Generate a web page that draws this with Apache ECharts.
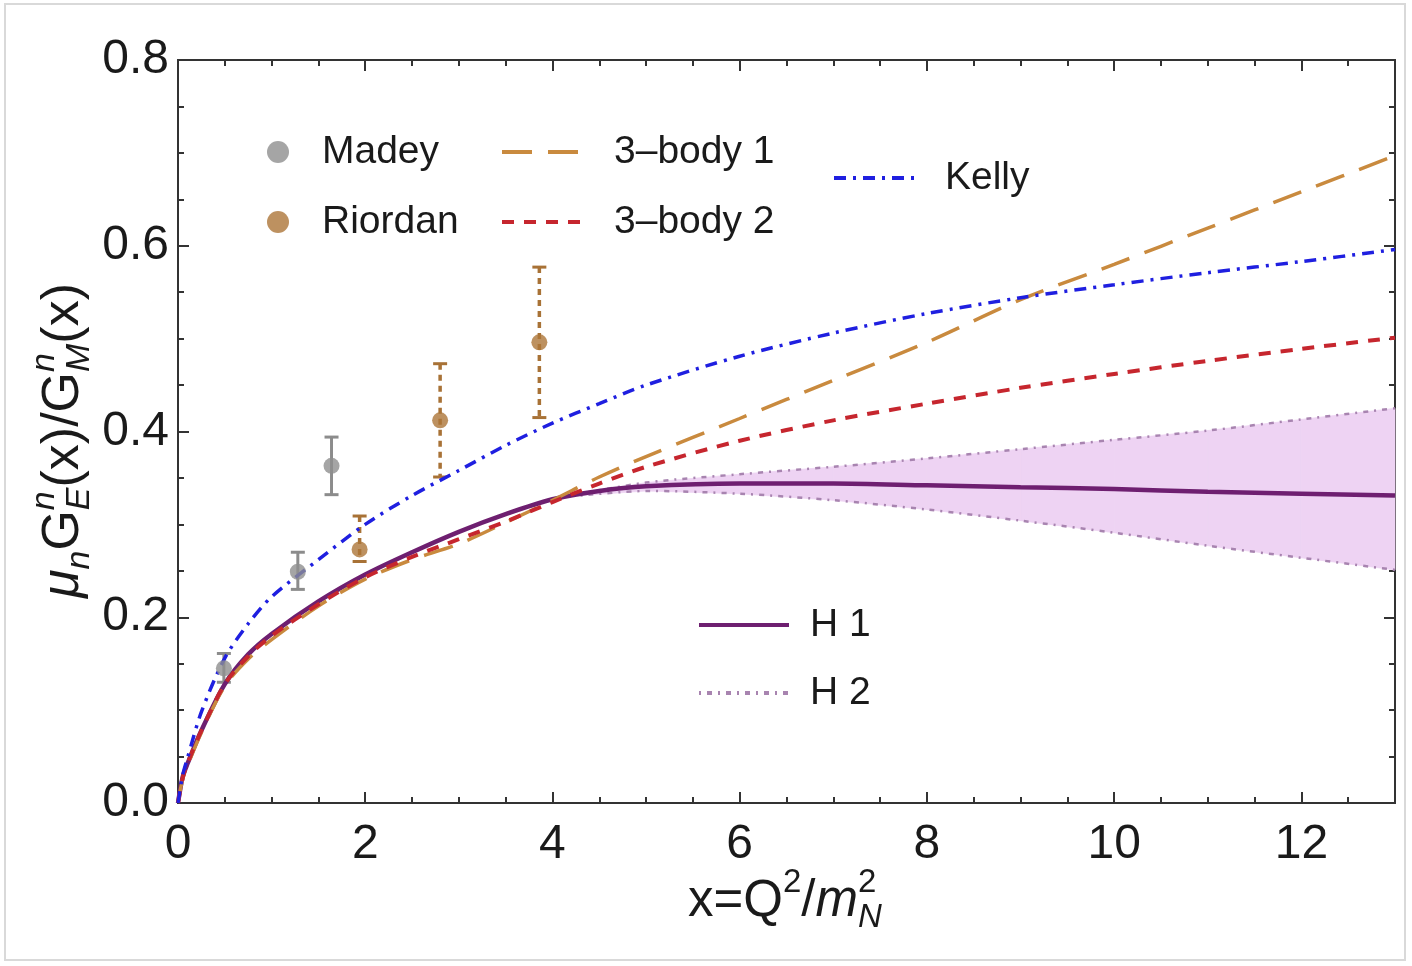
<!DOCTYPE html>
<html>
<head>
<meta charset="utf-8">
<script src="https://cdn.jsdelivr.net/npm/echarts@6/dist/echarts.min.js"></script>
<style>
  html, body { margin: 0; background: #fff; }
  #chart { width: 1412px; height: 966px; }
</style>
</head>
<body>
<div id="chart"></div>
<script>
// ---- data ----
const curveX   = [0, 0.05, 0.1, 0.25, 0.5, 0.75, 1, 1.5, 2, 2.5, 3, 3.5, 4, 4.5, 5, 6, 7, 8, 9, 10, 11, 12, 13];
const h1       = [0, 0.028, 0.042, 0.078, 0.128, 0.160, 0.182, 0.217, 0.246, 0.270, 0.292, 0.311, 0.327, 0.336, 0.341, 0.344, 0.344, 0.342, 0.340, 0.338, 0.335, 0.333, 0.331];
const kelly    = [0, 0.030, 0.048, 0.098, 0.156, 0.193, 0.222, 0.262, 0.300, 0.331, 0.358, 0.385, 0.409, 0.430, 0.450, 0.481, 0.506, 0.527, 0.544, 0.558, 0.571, 0.583, 0.596];
const body1    = [0, 0.026, 0.040, 0.076, 0.126, 0.155, 0.176, 0.212, 0.241, 0.262, 0.279, 0.302, 0.326, 0.351, 0.373, 0.414, 0.455, 0.496, 0.542, 0.580, 0.619, 0.658, 0.697];
const body2    = [0, 0.027, 0.042, 0.078, 0.128, 0.158, 0.180, 0.214, 0.243, 0.265, 0.284, 0.303, 0.324, 0.344, 0.362, 0.390, 0.412, 0.430, 0.447, 0.462, 0.476, 0.489, 0.501];

const bandX     = [4.3, 5, 6, 7, 8, 9, 10, 11, 12, 13];
const bandUpper = [0.333, 0.345, 0.354, 0.362, 0.371, 0.381, 0.391, 0.401, 0.413, 0.425];
const bandLower = [0.331, 0.336, 0.333, 0.326, 0.316, 0.304, 0.291, 0.277, 0.264, 0.251];

const madeyX    = [0.49, 1.28, 1.64];
const madeyY    = [0.145, 0.249, 0.363];
const madeyLo   = [0.130, 0.230, 0.332];
const madeyHi   = [0.161, 0.270, 0.394];

const riordanX  = [1.94, 2.80, 3.86];
const riordanY  = [0.273, 0.412, 0.496];
const riordanLo = [0.260, 0.351, 0.415];
const riordanHi = [0.309, 0.473, 0.577];

const xMajor = 2, xMinor = 0.5, yMajor = 0.2;

// ---- helpers ----
const FONT = '"Liberation Sans", Arial, sans-serif';
const INK = '#1a1a1a';
const pairs = (xs, ys) => xs.map((x, i) => [x, ys[i]]);

const ctx = document.createElement('canvas').getContext('2d');
function textWidth(t, size, italic) {
  ctx.font = (italic ? 'italic ' : '') + size + 'px ' + FONT;
  return ctx.measureText(t).width;
}
// lays out a formula made of normal / sub / sup pieces
function formula(pieces, x, y, rotation) {
  let cx = 0, prevStart = 0, prevW = 0;
  const children = pieces.map(p => {
    const w = textWidth(p.t, p.size, p.italic);
    let px;
    if (p.stack) {
      px = prevStart;
      cx = prevStart + Math.max(prevW, w);
    } else {
      px = cx;
      cx += w;
    }
    prevStart = px; prevW = w;
    return {
      type: 'text', x: px, y: p.dy || 0,
      style: {
        text: p.t, fill: INK, fontFamily: FONT, fontSize: p.size,
        fontStyle: p.italic ? 'italic' : 'normal', verticalAlign: 'middle', align: 'left'
      }
    };
  });
  return { type: 'group', x: x, y: y, rotation: rotation || 0, children: children };
}

function errorBars(xs, lo, hi, color, dash, cap, width) {
  return {
    type: 'custom',
    data: xs.map((x, i) => [x, lo[i], hi[i]]),
    encode: { x: 0, y: [1, 2] },
    z: 3,
    renderItem: (params, api) => {
      const top = api.coord([api.value(0), api.value(2)]);
      const bot = api.coord([api.value(0), api.value(1)]);
      const st = { stroke: color, lineWidth: width, lineDash: dash };
      const cs = { stroke: color, lineWidth: 3 };
      return {
        type: 'group',
        children: [
          { type: 'line', shape: { x1: top[0], y1: top[1], x2: bot[0], y2: bot[1] }, style: st },
          { type: 'line', shape: { x1: top[0] - cap, y1: top[1], x2: top[0] + cap, y2: top[1] }, style: cs },
          { type: 'line', shape: { x1: bot[0] - cap, y1: bot[1], x2: bot[0] + cap, y2: bot[1] }, style: cs }
        ]
      };
    }
  };
}

// filled band between lower and upper, one quad per interval
function bandSeries(xs, lo, hi, color) {
  return {
    type: 'custom',
    data: xs.map((x, i) => [x, lo[i], hi[i], i]),
    encode: { x: 0, y: [1, 2] },
    z: 1, silent: true,
    renderItem: (params, api) => {
      const i = api.value(3);
      if (i >= xs.length - 1) return null;
      const a = api.coord([xs[i], lo[i]]), b = api.coord([xs[i], hi[i]]);
      const c = api.coord([xs[i + 1], hi[i + 1]]), d = api.coord([xs[i + 1], lo[i + 1]]);
      return {
        type: 'polygon',
        shape: { points: [a, b, c, d] },
        style: { fill: color, stroke: color, lineWidth: 0.8 }
      };
    }
  };
}

function lineSeries(name, ys, color, width, type, xs) {
  return {
    name: name, type: 'line', data: pairs(xs || curveX, ys), symbol: 'none', showSymbol: false, smooth: 0.3,
    lineStyle: { color: color, width: width, type: type }, itemStyle: { color: color }, z: 4
  };
}

const axisLineStyle = { color: '#333', width: 2 };
function xAx(pos, interval, len, labels) {
  return {
    type: 'value', position: pos, min: 0, max: 13, interval: interval,
    axisLine: { show: true, onZero: false, lineStyle: axisLineStyle },
    axisTick: { show: true, inside: true, length: len, lineStyle: { color: '#333', width: 2 } },
    axisLabel: labels ? { show: true, fontSize: 48, fontFamily: FONT, color: INK, margin: 18, showMaxLabel: false,
      formatter: v => (v > 12.5 ? '' : String(v)) } : { show: false },
    splitLine: { show: false }
  };
}
function yAx(pos, labels) {
  return {
    type: 'value', position: pos, min: 0, max: 0.8, interval: yMajor,
    axisLine: { show: true, onZero: false, lineStyle: axisLineStyle },
    axisTick: { show: true, inside: true, length: 11, lineStyle: { color: '#333', width: 2 } },
    minorTick: { show: true, splitNumber: 4, length: 6, lineStyle: { color: '#333', width: 2 } },
    axisLabel: labels ? { show: true, fontSize: 48, fontFamily: FONT, color: INK, margin: 9,
      formatter: v => v.toFixed(1) } : { show: false },
    splitLine: { show: false }, minorSplitLine: { show: false }
  };
}

function legend(names, left, top, itemW, itemH, gap, pad, isLine) {
  const l = {
    data: names, orient: 'vertical', left: left, top: top, padding: 0,
    itemWidth: itemW, itemHeight: itemH, itemGap: gap, selectedMode: false,
    textStyle: { fontSize: 39, fontFamily: FONT, color: INK, lineHeight: 42, padding: [0, 0, 0, pad] }
  };
  if (isLine) {
    l.itemStyle = { opacity: 0 };
    l.lineStyle = { width: 4 };
  }
  return l;
}

const chart = echarts.init(document.getElementById('chart'), null, { renderer: 'canvas' });

const option = {
  backgroundColor: '#fff',
  animation: false,
  grid: { left: 178, right: 17, top: 60, bottom: 163 },
  xAxis: [xAx('bottom', xMajor, 11, true), xAx('bottom', xMinor, 6, false),
          xAx('top', xMajor, 11, false), xAx('top', xMinor, 6, false)],
  yAxis: [yAx('left', true), yAx('right', false)],
  legend: [
    legend(['Madey', 'Riordan'], 267, 131, 22, 22, 28, 28, false),
    legend(['3–body 1', '3–body 2'], 500, 131, 85, 22, 28, 22, true),
    legend(['Kelly'], 832, 157, 83, 22, 28, 23, true),
    legend(['H 1', 'H 2'], 697, 604, 90, 22, 26, 16, true)
  ],
  graphic: [
    { type: 'rect', shape: { x: 5, y: 4, width: 1400, height: 956 }, style: { fill: 'none', stroke: '#d9d9d9', lineWidth: 2 }, silent: true },
    formula([
      { t: 'x=Q', size: 51 },
      { t: '2', size: 33, dy: -19 },
      { t: '/', size: 51 },
      { t: 'm', size: 51, italic: true },
      { t: '2', size: 33, dy: -19 },
      { t: 'N', size: 33, italic: true, dy: 16, stack: true }
    ], 688, 902, 0),
    formula([
      { t: 'μ', size: 52, italic: true },
      { t: 'n', size: 34, italic: true, dy: 16 },
      { t: 'G', size: 52 },
      { t: 'n', size: 34, italic: true, dy: -19 },
      { t: 'E', size: 34, italic: true, dy: 16, stack: true },
      { t: '(x)/G', size: 52 },
      { t: 'n', size: 34, italic: true, dy: -19 },
      { t: 'M', size: 34, italic: true, dy: 16, stack: true },
      { t: '(x)', size: 52 }
    ], 64, 598, Math.PI / 2)
  ],
  series: [
    bandSeries(bandX, bandLower, bandUpper, '#eed3f3'),
    { name: 'H 2', type: 'line', data: pairs(bandX, bandUpper), symbol: 'none', showSymbol: false, smooth: 0.3,
      lineStyle: { color: '#a884b0', width: 2.5, type: [2, 6, 5, 6] }, itemStyle: { color: '#a884b0' }, z: 2 },
    { name: 'H 2', type: 'line', data: pairs(bandX, bandLower), symbol: 'none', showSymbol: false, smooth: 0.3,
      lineStyle: { color: '#a884b0', width: 2.5, type: [2, 6, 5, 6] }, itemStyle: { color: '#a884b0' }, z: 2 },

    lineSeries('H 1', h1, '#6e1f70', 4.5, 'solid'),
    lineSeries('3–body 1', body1, '#c98a3e', 3.5, [30, 16]),
    lineSeries('3–body 2', body2, '#c6262e', 4, [12, 10]),
    lineSeries('Kelly', kelly, '#1f1fe0', 3.5, [12, 7, 3, 7]),

    errorBars(madeyX, madeyLo, madeyHi, '#8c8c8c', null, 7, 3),
    errorBars(riordanX, riordanLo, riordanHi, '#a87236', [6, 5], 7, 3.5),
    { name: 'Madey', type: 'scatter', data: pairs(madeyX, madeyY), symbolSize: 16,
      itemStyle: { color: '#8f8f8f' }, z: 5 },
    { name: 'Riordan', type: 'scatter', data: pairs(riordanX, riordanY), symbolSize: 16,
      itemStyle: { color: '#ad7538' }, z: 5 }
  ]
};

chart.setOption(option);
</script>
</body>
</html>
